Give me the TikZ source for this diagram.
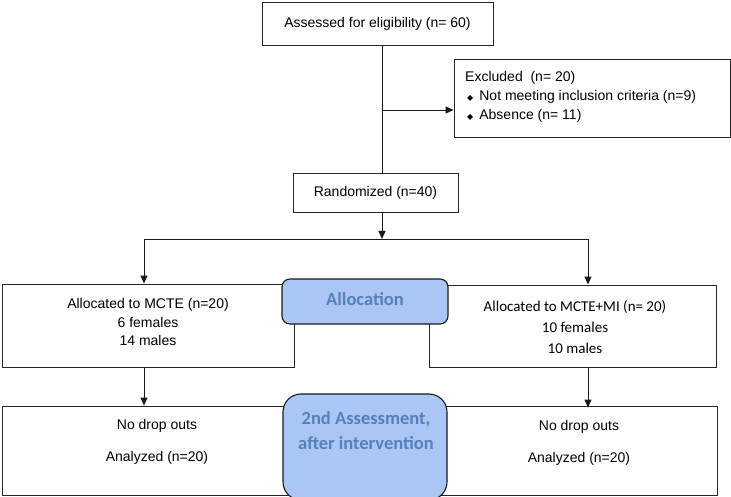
\documentclass[tikz,border=0pt]{standalone}
\usepackage{fontspec}
\setmainfont{Liberation Sans}
\newfontfamily\calib{Carlito}
\newfontfamily\dejavu{DejaVu Sans}
\usetikzlibrary{arrows.meta}
\definecolor{phasefill}{RGB}{170,198,244}
\definecolor{phasetext}{RGB}{86,128,186}
\begin{document}
\begin{tikzpicture}[x=1pt,y=-1pt,
  box/.style={draw=black!85,line width=0.9pt,rectangle,inner sep=0pt,fill=white},
  phase/.style={draw=black!90,line width=1.1pt,fill=phasefill,inner sep=0pt},
  txt/.style={font=\fontsize{14}{18.5}\selectfont,align=center,inner sep=0pt},
  ctxt/.style={font=\calib\fontsize{15}{21}\selectfont,align=center,inner sep=0pt},
  ptxt/.style={font=\calib\bfseries\fontsize{18.5}{25}\selectfont,text=phasetext,align=center,inner sep=0pt},
  conn/.style={line width=0.9pt,draw=black!90},
  arr/.style={conn,-{Triangle[length=8pt,width=7pt]}}]
\useasboundingbox (0,0) rectangle (731,497);
% boxes
\node[box,minimum width=231pt,minimum height=43pt] (assess) at (377.5,23.5) {};
\node[txt] (assesst) at (377.5,23.5) {Assessed for eligibility (n= 60)};
\node[box,minimum width=276pt,minimum height=78pt] (excl) at (592,98) {};
\node[txt,anchor=west] (exclt) at (465,78) {Excluded\ \ (n= 20)};
\node[txt,anchor=west] (b1) at (467,97) {{\dejavu\fontsize{8}{8}\selectfont ◆}\hspace{6pt}Not meeting inclusion criteria (n=9)};
\node[txt,anchor=west] (b2) at (467,116) {{\dejavu\fontsize{8}{8}\selectfont ◆}\hspace{6pt}Absence (n= 11)};
\node[box,minimum width=165pt,minimum height=39pt] (rand) at (375.5,192.5) {};
\node[txt] (randt) at (375.5,192.5) {Randomized (n=40)};
\node[box,minimum width=292pt,minimum height=83pt] (left) at (148,325.5) {};
\node[txt] (leftt) at (148,322) {Allocated to MCTE (n=20)\\6 females\\14 males};
\node[box,minimum width=287pt,minimum height=82pt] (right) at (572.5,326) {};
\node[ctxt] (rightt) at (575,327) {Allocated to MCTE+MI (n= 20)\\10 females\\10 males};
\node[box,minimum width=715pt,minimum height=89pt] (bottom) at (359.5,450.5) {};
\node[txt,align=center] (blt) at (157,442) {No drop outs\\[13pt]Analyzed (n=20)};
\node[txt,align=center] (brt) at (579,443) {No drop outs\\[13pt]Analyzed (n=20)};
% phase labels
\node[phase,rounded corners=8pt,minimum width=166pt,minimum height=45pt] (alloc) at (365,301.5) {};
\node[ptxt] (alloct) at (365,299) {Allocation};
\node[phase,rounded corners=18pt,minimum width=164pt,minimum height=106pt] (second) at (365,447) {};
\node[ptxt] (secondt) at (366,431) {2nd Assessment,\\after intervention};
% connectors
\coordinate (v) at (382,0);
\coordinate (j1) at (382,110);
\coordinate (j2) at (382,239);
\coordinate (lx) at (144,0);
\coordinate (rx) at (588,0);
\draw[conn] (assess.south -| v) -- (rand.north -| v);
\draw[arr] (j1) -- (j1 -| excl.west);
\draw[arr] (rand.south -| v) -- (j2);
\draw[conn] (j2 -| lx) -- (j2 -| rx);
\draw[arr] (j2 -| lx) -- (left.north -| lx);
\draw[arr] (j2 -| rx) -- (right.north -| rx);
\draw[arr] (left.south -| lx) -- (bottom.north -| lx);
\draw[arr] (right.south -| rx) -- ([yshift=-2pt]bottom.north -| rx);
\end{tikzpicture}
\end{document}
